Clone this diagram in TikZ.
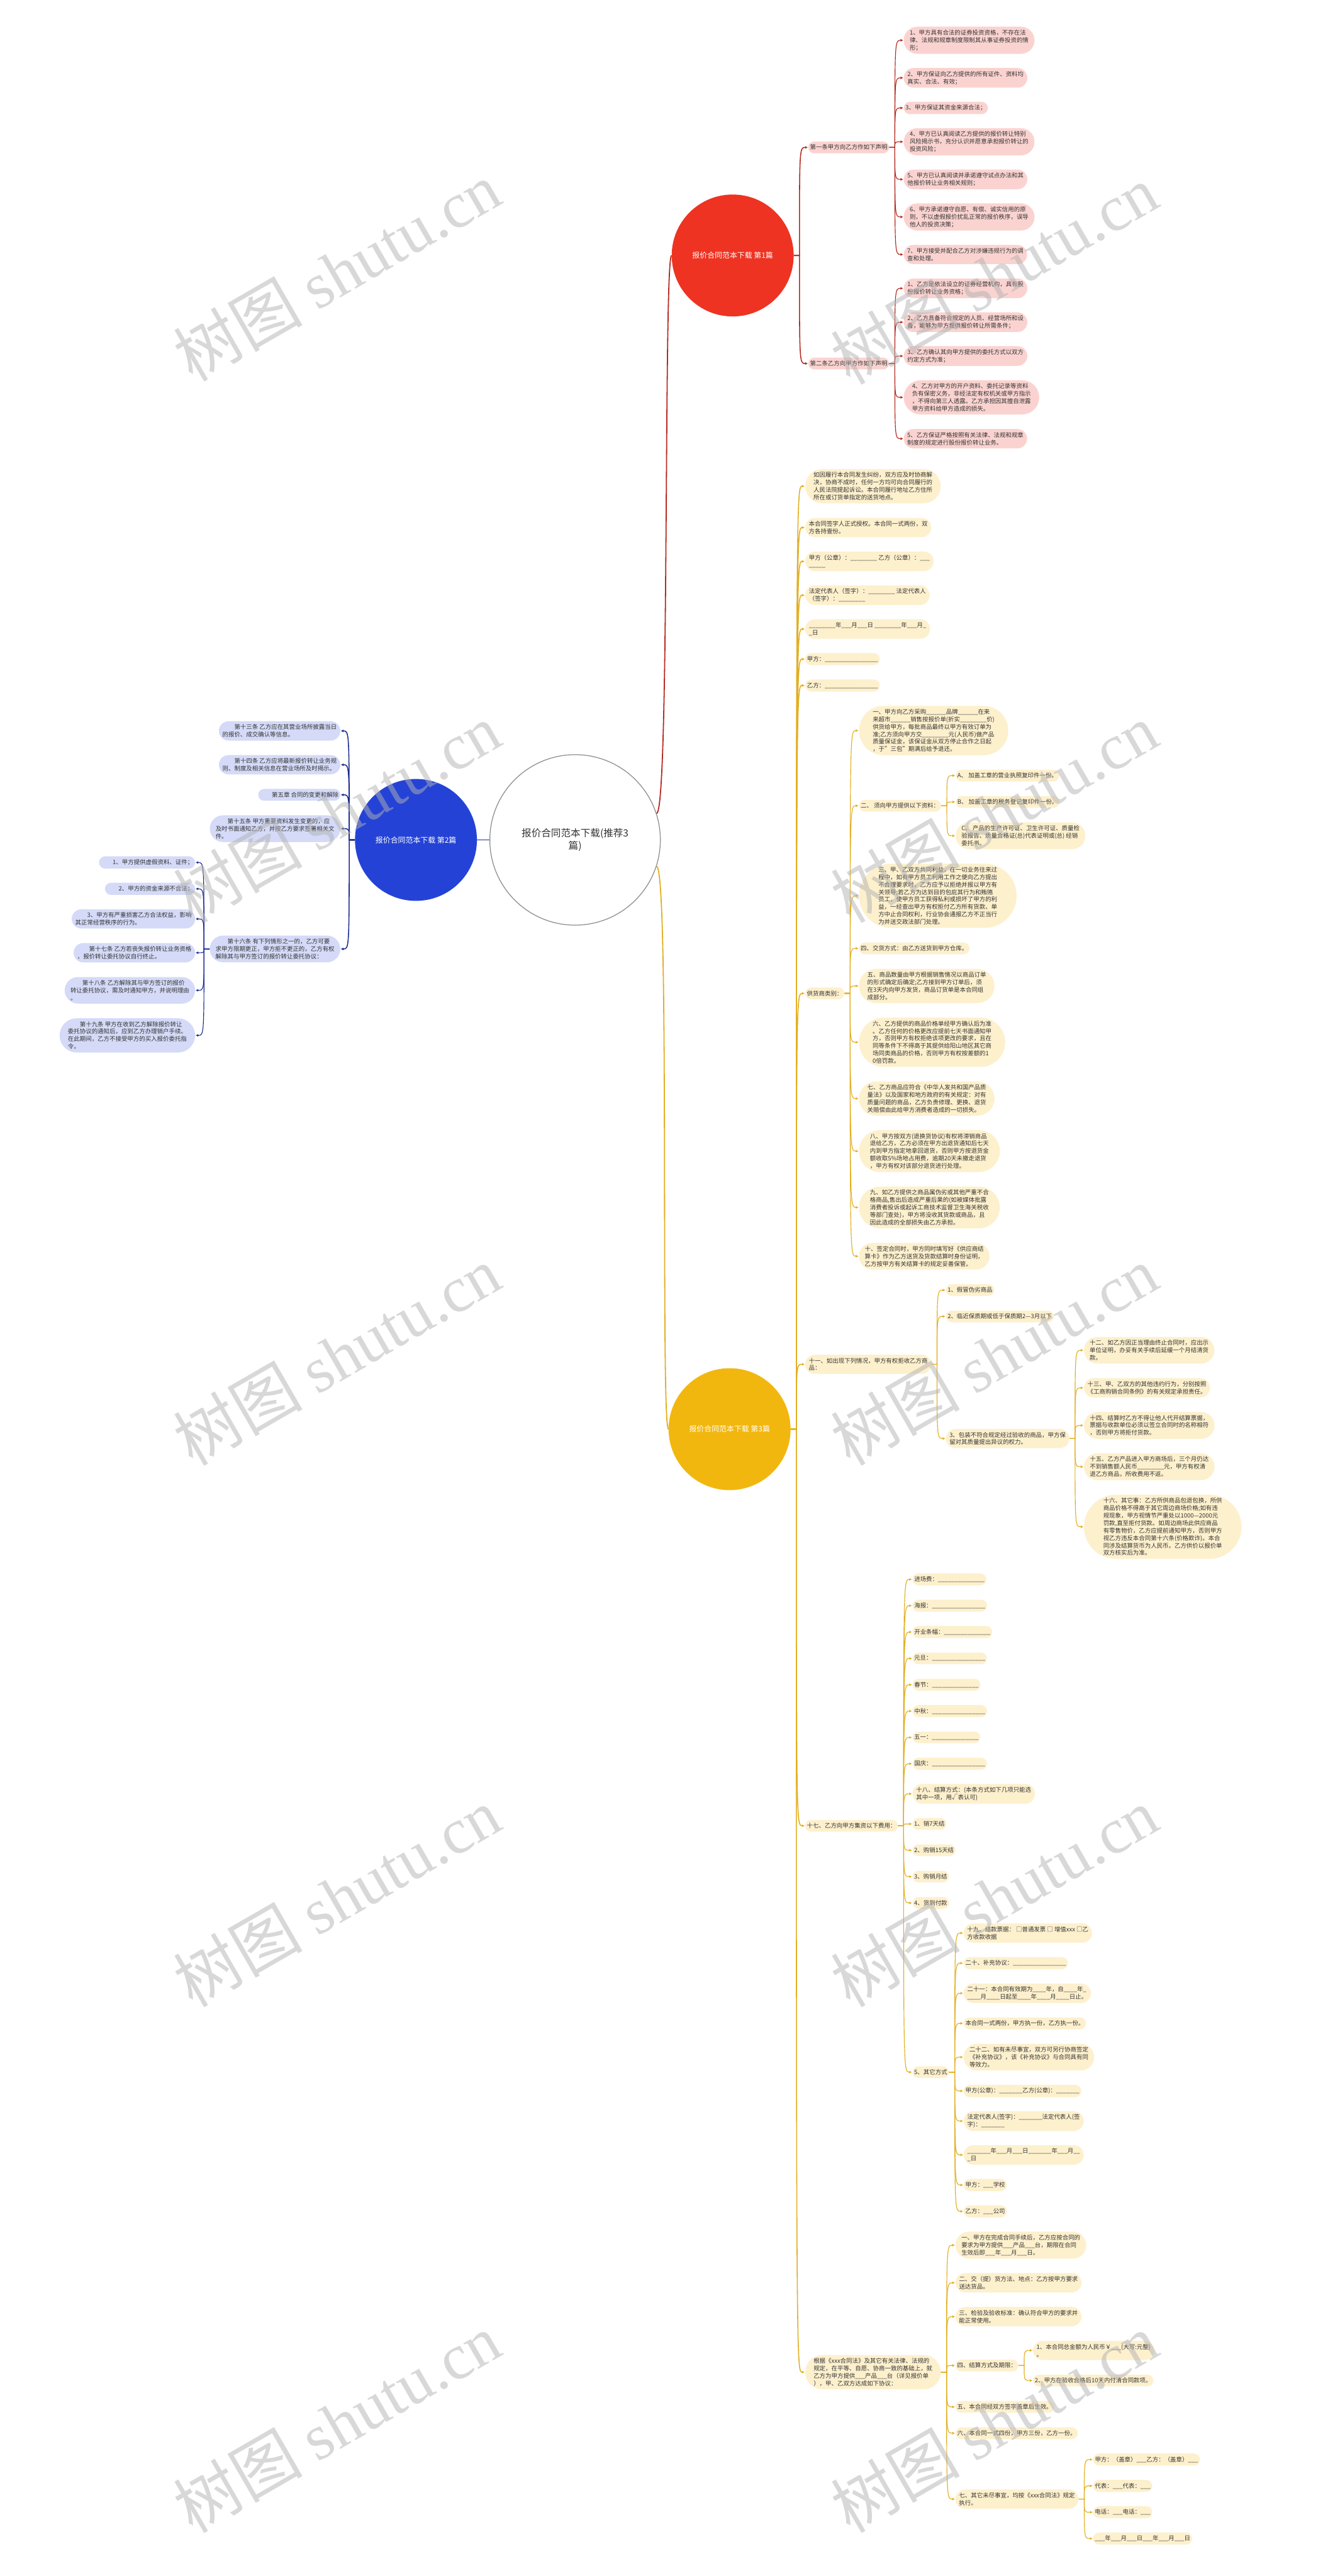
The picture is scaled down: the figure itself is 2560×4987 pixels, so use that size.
\documentclass[tikz,border=0pt]{standalone}
\usepackage{fontspec}
\setmainfont{Noto Sans CJK SC}
\newfontfamily\wmfont{Liberation Serif}
\usetikzlibrary{shapes.misc,arrows.meta,calc}
\definecolor{redc}{HTML}{EE3322}
\definecolor{redl}{HTML}{B52A20}
\definecolor{redf}{HTML}{FAD3D0}
\definecolor{bluec}{HTML}{2443D6}
\definecolor{bluel}{HTML}{1C2E92}
\definecolor{bluef}{HTML}{D4DAF7}
\definecolor{yelc}{HTML}{F2B70E}
\definecolor{yell}{HTML}{E2AF22}
\definecolor{yelf}{HTML}{FDF0CD}
\definecolor{txt}{HTML}{333333}
\definecolor{rootb}{HTML}{8C8C8C}
\ExplSyntaxOn
\NewDocumentCommand\bk{m}{\prg_replicate:nn{#1}{\textunderscore}}
\ExplSyntaxOff
\pgfdeclarelayer{bg}
\pgfsetlayers{bg,main}
\tikzset{
  leafbase/.style={rounded rectangle, inner xsep=2pt, inner ysep=6pt, align=left, text=txt, font=\fontsize{11.5}{14.5}\selectfont},
  rbox/.style={leafbase, fill=redf},
  bbox/.style={leafbase, fill=bluef},
  ybox/.style={leafbase, fill=yelf},
  conn/.style={line width=1.4pt, -{Triangle[length=5pt,width=4.5pt]}},
  rlone/.style={conn, draw=redl, line width=1.9pt},
  rltwo/.style={conn, draw=redl},
  blone/.style={conn, draw=bluel, line width=1.9pt},
  bltwo/.style={conn, draw=bluel},
  ylone/.style={conn, draw=yell, line width=1.9pt},
  yltwo/.style={conn, draw=yell},
  maincircle/.style={circle, minimum size=236pt, inner sep=0pt, text=white, font=\fontsize{14.5}{17}\selectfont},
  wmark/.style={rotate=30, text=black!30, text opacity=0.5, font=\fontsize{125}{125}\selectfont}
}
% right-going kid: parent, name, y, node style, connector style, text
\newcommand\rk[6]{%
  \coordinate (tmp) at ([xshift=28pt]#1.east);
  \coordinate (yy) at (0,#3);
  \node[#4,anchor=west] (#2) at (tmp |- yy) {#6};
  \begin{pgfonlayer}{bg}
  \coordinate (sp) at ([xshift=11pt]#1.east);
  \draw[#5] (#1.east) -- (sp) .. controls (sp |- #2.west) .. ([xshift=-1pt]#2.west);
  \end{pgfonlayer}
}
% left-going kid
\newcommand\lk[6]{%
  \coordinate (tmp) at ([xshift=-28pt]#1.west);
  \coordinate (yy) at (0,#3);
  \node[#4,anchor=east] (#2) at (tmp |- yy) {#6};
  \begin{pgfonlayer}{bg}
  \coordinate (sp) at ([xshift=-11pt]#1.west);
  \draw[#5] (#1.west) -- (sp) .. controls (sp |- #2.east) .. ([xshift=1pt]#2.east);
  \end{pgfonlayer}
}
\begin{document}
\begin{tikzpicture}[x=1pt,y=-1pt]
\begin{pgfonlayer}{bg}
\fill[white] (0,0) rectangle (2560,4987);
\end{pgfonlayer}
\useasboundingbox (0,0) rectangle (2560,4987);

% root and main circles
\node[circle, draw=rootb, line width=1.5pt, fill=white, minimum size=330pt, inner sep=0pt, align=center, text=txt, font=\fontsize{19}{25}\selectfont] (root) at (1113,1626) {报价合同范本下载(推荐3\\篇)};
\node[maincircle, fill=redc] (R1) at (1418,494.6) {报价合同范本下载 第1篇};
\node[maincircle, fill=bluec] (B2) at (805,1626) {报价合同范本下载 第2篇};
\node[maincircle, fill=yelc] (Y3) at (1412,2766.75) {报价合同范本下载 第3篇};
\begin{pgfonlayer}{bg}
\draw[redl, line width=2.2pt] (root.18) .. controls ($(root.18)+(26,0)$) and ($(R1.west)+(-16,0)$) .. (R1.west);
\draw[yell, line width=2.2pt] (root.-18) .. controls ($(root.-18)+(26,0)$) and ($(Y3.west)+(-16,0)$) .. (Y3.west);
\draw[bluel, line width=2.2pt] (root.west) -- (B2.east);
\end{pgfonlayer}

% ---------------- branch 1 (red)
\rk{R1}{p1}{285.4}{rbox}{rlone}{第一条甲方向乙方作如下声明}
\rk{R1}{p2}{703.75}{rbox}{rlone}{第二条乙方向甲方作如下声明}
\rk{p1}{L1}{78}{rbox}{rltwo}{1、甲方具有合法的证券投资资格，不存在法\\律、法规和规章制度限制其从事证券投资的情\\形；}
\rk{p1}{L2}{150.75}{rbox}{rltwo}{2、甲方保证向乙方提供的所有证件、资料均\\真实、合法、有效；}
\rk{p1}{L3}{209}{rbox}{rltwo}{3、甲方保证其资金来源合法；}
\rk{p1}{L4}{274.5}{rbox}{rltwo}{4、甲方已认真阅读乙方提供的报价转让特别\\风险揭示书，充分认识并愿意承担报价转让的\\投资风险；}
\rk{p1}{L5}{347.25}{rbox}{rltwo}{5、甲方已认真阅读并承诺遵守试点办法和其\\他报价转让业务相关规则；}
\rk{p1}{L6}{420}{rbox}{rltwo}{6、甲方承诺遵守自愿、有偿、诚实信用的原\\则，不以虚假报价扰乱正常的报价秩序，误导\\他人的投资决策；}
\rk{p1}{L7}{492.75}{rbox}{rltwo}{7、甲方接受并配合乙方对涉嫌违规行为的调\\查和处理。}
\rk{p2}{M1}{558.25}{rbox}{rltwo}{1、乙方是依法设立的证券经营机构，具有股\\份报价转让业务资格；}
\rk{p2}{M2}{623.75}{rbox}{rltwo}{2、乙方具备符合规定的人员、经营场所和设\\备，能够为甲方提供报价转让所需条件；}
\rk{p2}{M3}{689.25}{rbox}{rltwo}{3、乙方确认其向甲方提供的委托方式以双方\\约定方式为准；}
\rk{p2}{M4}{769.25}{rbox}{rltwo}{4、乙方对甲方的开户资料、委托记录等资料\\负有保密义务，非经法定有权机关或甲方指示\\，不得向第三人透露。乙方承担因其擅自泄露\\甲方资料给甲方造成的损失。}
\rk{p2}{M5}{849.25}{rbox}{rltwo}{5、乙方保证严格按照有关法律、法规和规章\\制度的规定进行股份报价转让业务。}

% ---------------- branch 2 (blue)
\lk{B2}{q1}{1415}{bbox}{blone}{\hspace*{2em}第十三条 乙方应在其营业场所披露当日\\的报价、成交确认等信息。}
\lk{B2}{q2}{1480.5}{bbox}{blone}{\hspace*{2em}第十四条 乙方应将最新报价转让业务规\\则、制度及相关信息在营业场所及时揭示。}
\lk{B2}{q3}{1538.7}{bbox}{blone}{\hspace*{2em}第五章 合同的变更和解除}
\lk{B2}{q4}{1604.2}{bbox}{blone}{\hspace*{2em}第十五条 甲方重要资料发生变更的，应\\及时书面通知乙方，并按乙方要求签署相关文\\件。}
\lk{B2}{q5}{1837.1}{bbox}{blone}{\hspace*{2em}第十六条 有下列情形之一的，乙方可要\\求甲方限期更正，甲方拒不更正的，乙方有权\\解除其与甲方签订的报价转让委托协议：}
\lk{q5}{qa}{1669.7}{bbox}{bltwo}{\hspace*{2em}1、甲方提供虚假资料、证件；}
\lk{q5}{qb}{1720.7}{bbox}{bltwo}{\hspace*{2em}2、甲方的资金来源不合法；}
\lk{q5}{qc}{1778.95}{bbox}{bltwo}{\hspace*{2em}3、甲方有严重损害乙方合法权益，影响\\其正常经营秩序的行为。}
\lk{q5}{qd}{1844.45}{bbox}{bltwo}{\hspace*{2em}第十七条 乙方若丧失报价转让业务资格\\，报价转让委托协议自行终止。}
\lk{q5}{qe}{1917.2}{bbox}{bltwo}{\hspace*{2em}第十八条 乙方解除其与甲方签订的报价\\转让委托协议，需及时通知甲方，并说明理由\\。}
\lk{q5}{qf}{2004.45}{bbox}{bltwo}{\hspace*{2em}第十九条 甲方在收到乙方解除报价转让\\委托协议的通知后，应到乙方办理销户手续。\\在此期间，乙方不接受甲方的买入报价委托指\\令。}

% ---------------- branch 3 (yellow)
\rk{Y3}{ya}{941.25}{ybox}{ylone}{如因履行本合同发生纠纷，双方应及时协商解\\决，协商不成时，任何一方均可向合同履行的\\人民法院提起诉讼。本合同履行地址乙方住所\\所在或订货单指定的送货地点。}
\rk{Y3}{yb}{1021.25}{ybox}{ylone}{本合同签字人正式授权。本合同一式两份，双\\方各持壹份。}
\rk{Y3}{yc}{1086.75}{ybox}{ylone}{甲方（公章）：\bk{8} 乙方（公章）：\bk{3}\\\bk{5}}
\rk{Y3}{yd}{1152.25}{ybox}{ylone}{法定代表人（签字）：\bk{8} 法定代表人\\（签字）：\bk{8}}
\rk{Y3}{ye}{1217.75}{ybox}{ylone}{\bk{8}年\bk{3}月\bk{3}日 \bk{8}年\bk{3}月\bk{1}\\\bk{1}日}
\rk{Y3}{yf}{1276}{ybox}{ylone}{甲方：\bk{16}}
\rk{Y3}{yg}{1327}{ybox}{ylone}{乙方：\bk{16}}
\rk{Y3}{yh}{1923.1}{ybox}{ylone}{供货商类别：}
\rk{yh}{yhA}{1414.25}{ybox}{yltwo}{一、甲方向乙方采购\bk{6}品牌\bk{6}在来\\来超市\bk{6}销售按报价单(折实\bk{8}价)\\供货给甲方，每批商品最终以甲方有效订单为\\准;乙方须向甲方交\bk{8}元(人民币)做产品\\质量保证金，该保证金从双方停止合作之日起\\，于"三包"期满后给予退还。}
\rk{yh}{yhB}{1559.75}{ybox}{yltwo}{二、 须向甲方提供以下资料：}
\rk{yhB}{yhBa}{1501.5}{ybox}{yltwo}{A、 加盖工章的营业执照复印件一份。}
\rk{yhB}{yhBb}{1552.5}{ybox}{yltwo}{B、 加盖工章的税务登记复印件一份。}
\rk{yhB}{yhBc}{1618}{ybox}{yltwo}{C、 产品的生产许可证、卫生许可证、质量检\\验报告、质量合格证(总)代表证明或(总) 经销\\委托书。}
\rk{yh}{yhC}{1734.25}{ybox}{yltwo}{三、甲、乙双方共同利益，在一切业务往来过\\程中，如有甲方员工利用工作之便向乙方提出\\不合理要求时，乙方应予以拒绝并报以甲方有\\关领导;若乙方为达到目的包庇其行为和贿赂\\员工，使甲方员工获得私利或损坏了甲方的利\\益，一经查出甲方有权拒付乙方所有货款、单\\方中止合同权利，行业协会通报乙方不正当行\\为并送交政法部门处理。}
\rk{yh}{yhD}{1836}{ybox}{yltwo}{四、交货方式：由乙方送货到甲方仓库。}
\rk{yh}{yhE}{1908.75}{ybox}{yltwo}{五、商品数量由甲方根据销售情况以商品订单\\的形式确定后确定;乙方接到甲方订单后，须\\在3天内向甲方发货，商品订货单是本合同组\\成部分。}
\rk{yh}{yhF}{2017.75}{ybox}{yltwo}{六、乙方提供的商品价格单经甲方确认后为准\\。乙方任何的价格更改应提前七天书面通知甲\\方，否则甲方有权拒绝该项更改的要求，且在\\同等条件下不得高于其提供给阳山地区其它商\\场同类商品的价格，否则甲方有权按差额的1\\0倍罚款。}
\rk{yh}{yhG}{2126.75}{ybox}{yltwo}{七、乙方商品应符合《中华人发共和国产品质\\量法》以及国家和地方政府的有关规定：对有\\质量问题的商品，乙方负责修理、更换、退货\\关赔偿由此给甲方消费者造成的一切损失。}
\rk{yh}{yhH}{2228.5}{ybox}{yltwo}{八、甲方按双方(退换货协议)有权将滞销商品\\退给乙方，乙方必须在甲方出退货通知后七天\\内到甲方指定地拿回退货，否则甲方按退货金\\额收取5\%场地占用费，逾期20天未撤走退货\\，甲方有权对该部分退货进行处理。}
\rk{yh}{yhI}{2337.5}{ybox}{yltwo}{九、如乙方提供之商品属伪劣或其他严重不合\\格商品,售出后造成严重后果的(如被媒体批露\\消费者投诉或起诉工商技术监督卫生海关税收\\等部门查处)，甲方将没收其货款或商品，且\\因此造成的全部损失由乙方承担。}
\rk{yh}{yhJ}{2432}{ybox}{yltwo}{十、签定合同时，甲方同时填写好《供应商结\\算卡》作为乙方送货及货款结算时身份证明，\\乙方按甲方有关结算卡的规定妥善保管。}

\rk{Y3}{yi}{2641.2}{ybox}{ylone}{十一、如出现下列情况，甲方有权拒收乙方商\\品：}
\rk{yi}{yiA}{2497.5}{ybox}{yltwo}{1、假冒伪劣商品}
\rk{yi}{yiB}{2548.5}{ybox}{yltwo}{2、临近保质期或低于保质期2—3月以下}
\rk{yi}{yiC}{2784.9}{ybox}{yltwo}{3、包装不符合规定经过验收的商品，甲方保\\留对其质量提出异议的权力。}
\rk{yiC}{yiCa}{2614}{ybox}{yltwo}{十二、如乙方因正当理由终止合同时，应出示\\单位证明，办妥有关手续后延缓一个月结清货\\款。}
\rk{yiC}{yiCb}{2686.75}{ybox}{yltwo}{十三、甲、乙双方的其他违约行为，分别按照\\《工商购销合同条例》的有关规定承担责任。}
\rk{yiC}{yiCc}{2759.5}{ybox}{yltwo}{十四、结算时乙方不得让他人代开结算票据，\\票据与收款单位必须以签立合同时的名称相符\\，否则甲方将拒付货款。}
\rk{yiC}{yiCd}{2839.5}{ybox}{yltwo}{十五、乙方产品进入甲方商场后，三个月仍达\\不到销售额人民币\bk{8}元，甲方有权清\\退乙方商品，所收费用不返。}
\rk{yiC}{yiCe}{2955.75}{ybox}{yltwo}{十六、其它事：乙方所供商品包退包换，所供\\商品价格不得高于其它周边商场价格;如有违\\规现象，甲方视情节严重处以1000—2000元\\罚款,直至拒付货款。如周边商场此供应商品\\有零售物价，乙方应提前通知甲方，否则甲方\\视乙方违反本合同第十六条(价格欺诈)。本合\\同涉及结算货币为人民币。乙方供价以报价单\\双方核实后为准。}

\rk{Y3}{yj}{3534.6}{ybox}{ylone}{十七、乙方向甲方集资以下费用：}
\rk{yj}{yj1}{3057.5}{ybox}{yltwo}{进场费：\bk{14}}
\rk{yj}{yj2}{3108.5}{ybox}{yltwo}{海报：\bk{16}}
\rk{yj}{yj3}{3159.5}{ybox}{yltwo}{开业条幅：\bk{14}}
\rk{yj}{yj4}{3210.5}{ybox}{yltwo}{元旦：\bk{16}}
\rk{yj}{yj5}{3261.5}{ybox}{yltwo}{春节：\bk{14}}
\rk{yj}{yj6}{3312.5}{ybox}{yltwo}{中秋：\bk{16}}
\rk{yj}{yj7}{3363.5}{ybox}{yltwo}{五一：\bk{14}}
\rk{yj}{yj8}{3414.5}{ybox}{yltwo}{国庆：\bk{16}}
\rk{yj}{yj9}{3472.75}{ybox}{yltwo}{十八、结算方式：(本条方式如下几项只能选\\其中一项，用√表认可)}
\rk{yj}{yj10}{3531}{ybox}{yltwo}{1、销7天结}
\rk{yj}{yj11}{3582}{ybox}{yltwo}{2、购销15天结}
\rk{yj}{yj12}{3633}{ybox}{yltwo}{3、购销月结}
\rk{yj}{yj13}{3684}{ybox}{yltwo}{4、货到付款}
\rk{yj}{yj14}{4011.6}{ybox}{yltwo}{5、其它方式}
\rk{yj14}{yk1}{3742.25}{ybox}{yltwo}{十九、结款票据： □普通发票 □ 增值xxx □乙\\方收款收据}
\rk{yj14}{yk2}{3800.5}{ybox}{yltwo}{二十、补充协议：\bk{16}}
\rk{yj14}{yk3}{3858.75}{ybox}{yltwo}{二十一：本合同有效期为\bk{4}年，自\bk{4}年\bk{1}\\\bk{4}月\bk{4}日起至\bk{4}年\bk{4}月\bk{4}日止。}
\rk{yj14}{yk4}{3917}{ybox}{yltwo}{本合同一式两份，甲方执一份，乙方执一份。}
\rk{yj14}{yk5}{3982.5}{ybox}{yltwo}{二十二、如有未尽事宜，双方可另行协商签定\\《补充协议》，该《补充协议》与合同具有同\\等效力。}
\rk{yj14}{yk6}{4048}{ybox}{yltwo}{甲方(公章)：\bk{7}乙方(公章)：\bk{7}}
\rk{yj14}{yk7}{4106.25}{ybox}{yltwo}{法定代表人(签字)：\bk{7}法定代表人(签\\字)：\bk{7}}
\rk{yj14}{yk8}{4171.75}{ybox}{yltwo}{\bk{7}年\bk{3}月\bk{3}日\bk{7}年\bk{3}月\bk{2}\\\bk{1}日}
\rk{yj14}{yk9}{4230}{ybox}{yltwo}{甲方：\bk{3}学校}
\rk{yj14}{yk10}{4281}{ybox}{yltwo}{乙方：\bk{3}公司}

\rk{Y3}{yl}{4592.25}{ybox}{ylone}{根据《xxx合同法》及其它有关法律、法规的\\规定，在平等、自愿、协商一致的基础上，就\\乙方为甲方提供\bk{3}产品\bk{3}台（详见报价单\\），甲、乙双方达成如下协议：}
\rk{yl}{yl1}{4346.5}{ybox}{yltwo}{一、甲方在完成合同手续后，乙方应按合同的\\要求为甲方提供\bk{3}产品\bk{3}台，期限在合同\\生效后即\bk{3}年\bk{3}月\bk{3}日。}
\rk{yl}{yl2}{4419.25}{ybox}{yltwo}{二、交（提）货方法、地点：乙方按甲方要求\\送达货品。}
\rk{yl}{yl3}{4484.75}{ybox}{yltwo}{三、检验及验收标准：确认符合甲方的要求并\\能正常使用。}
\rk{yl}{yl4}{4579.4}{ybox}{yltwo}{四、结算方式及期限：}
\rk{yl4}{yl4a}{4550.25}{ybox}{yltwo}{1、本合同总金额为人民币￥\bk{3}(大写:元整)\\。}
\rk{yl4}{yl4b}{4608.5}{ybox}{yltwo}{2、甲方在验收合格后10天内付清合同款项。}
\rk{yl}{yl5}{4659.5}{ybox}{yltwo}{五、本合同经双方签字盖章后生效。}
\rk{yl}{yl6}{4710.5}{ybox}{yltwo}{六、本合同一式四份，甲方三份，乙方一份。}
\rk{yl}{yl7}{4838}{ybox}{yltwo}{七、其它未尽事宜，均按《xxx合同法》规定\\执行。}
\rk{yl7}{yl7a}{4761.5}{ybox}{yltwo}{甲方：（盖章）\bk{3}乙方：（盖章）\bk{3}}
\rk{yl7}{yl7b}{4812.5}{ybox}{yltwo}{代表：\bk{3}代表：\bk{3}}
\rk{yl7}{yl7c}{4863.5}{ybox}{yltwo}{电话：\bk{3}电话：\bk{3}}
\rk{yl7}{yl7d}{4914.5}{ybox}{yltwo}{\bk{3}年\bk{3}月\bk{3}日\bk{3}年\bk{3}月\bk{3}日}

% ---------------- watermarks
\node[wmark] (w1) at (652,525) {树图 {\wmfont shutu.cn}};
\node[wmark] (w2) at (1924,531) {树图 {\wmfont shutu.cn}};
\node[wmark] (w3) at (652,1574) {树图 {\wmfont shutu.cn}};
\node[wmark] (w4) at (1924,1574) {树图 {\wmfont shutu.cn}};
\node[wmark] (w5) at (652,2624) {树图 {\wmfont shutu.cn}};
\node[wmark] (w6) at (1924,2624) {树图 {\wmfont shutu.cn}};
\node[wmark] (w7) at (652,3673) {树图 {\wmfont shutu.cn}};
\node[wmark] (w8) at (1924,3673) {树图 {\wmfont shutu.cn}};
\node[wmark] (w9) at (652,4690) {树图 {\wmfont shutu.cn}};
\node[wmark] (w10) at (1924,4690) {树图 {\wmfont shutu.cn}};
\end{tikzpicture}
\end{document}
